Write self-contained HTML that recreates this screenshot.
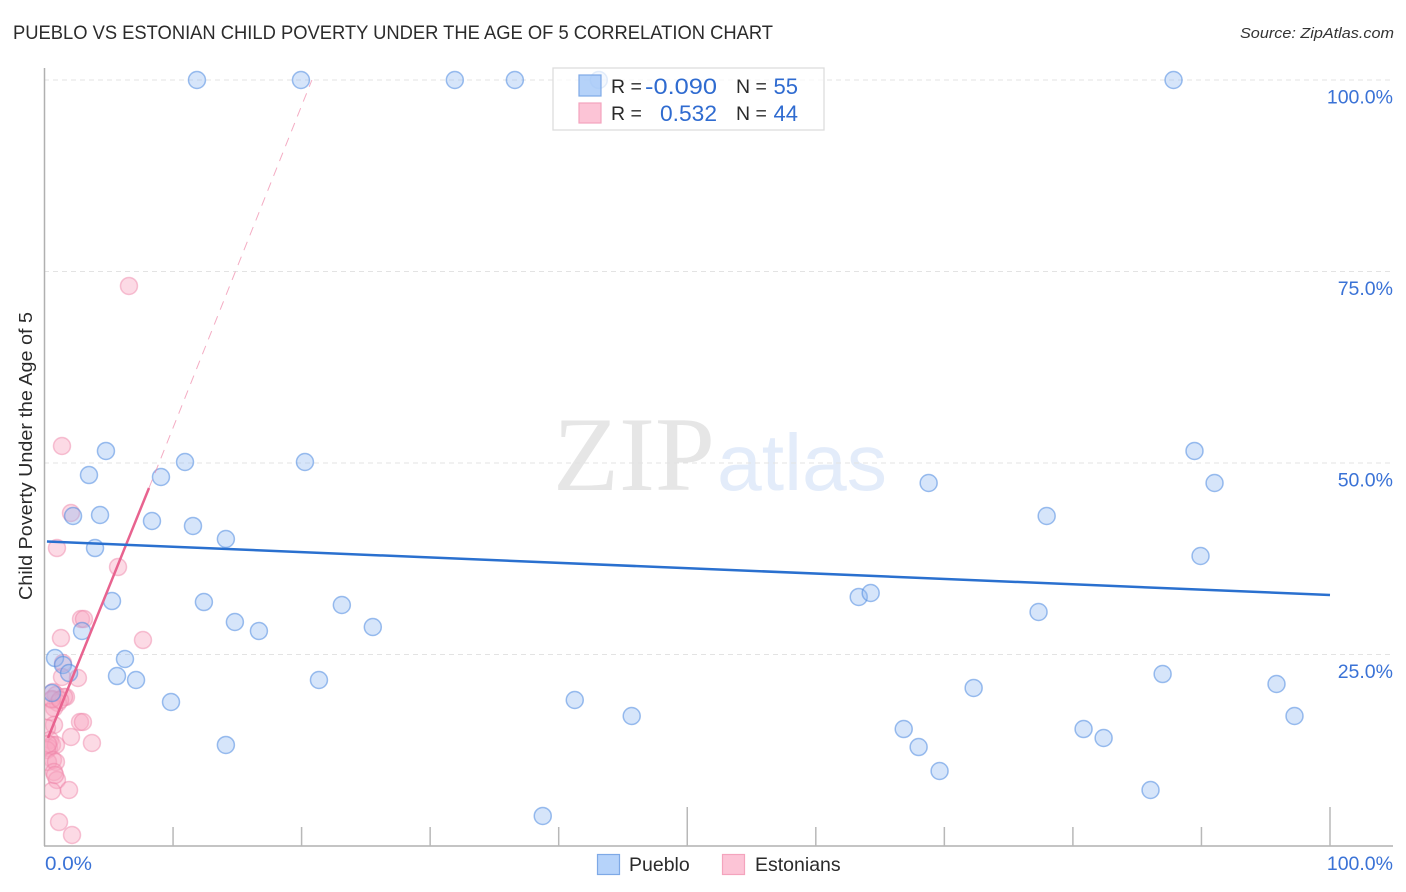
<!DOCTYPE html>
<html lang="en">
<head>
<meta charset="utf-8">
<title>Pueblo vs Estonian Child Poverty Under the Age of 5 Correlation Chart</title>
<style>
html,body{margin:0;padding:0;background:#fff;width:1406px;height:892px;overflow:hidden}
svg{display:block;font-family:"Liberation Sans",sans-serif}
</style>
</head>
<body>
<svg id="chart" width="1406" height="892" viewBox="0 0 1406 892">
  <defs>
    <clipPath id="plotClip"><rect x="45" y="60" width="1350" height="786"></rect></clipPath>
  </defs>
  <text x="13" y="39" font-size="19" fill="#2b2b2b" textLength="760" lengthAdjust="spacingAndGlyphs">PUEBLO VS ESTONIAN CHILD POVERTY UNDER THE AGE OF 5 CORRELATION CHART</text>
  <text x="1394" y="38" font-size="15" font-style="italic" fill="#333" text-anchor="end" textLength="154" lengthAdjust="spacingAndGlyphs">Source: ZipAtlas.com</text>

  <g>
    <text x="553" y="490" font-family="'Liberation Serif',serif" font-size="106" fill="#e6e6e6" textLength="162" lengthAdjust="spacingAndGlyphs">ZIP</text>
    <text x="717" y="490" font-family="'Liberation Sans',sans-serif" font-size="80" fill="#e3ecfa" textLength="170" lengthAdjust="spacingAndGlyphs">atlas</text>
  </g>

  <g id="grid"></g>
  <g id="axes">
    <line x1="44.5" y1="68" x2="44.5" y2="846" stroke="#b0b0b0" stroke-width="1.5"></line>
    <line x1="44" y1="846" x2="1393" y2="846" stroke="#b0b0b0" stroke-width="1.5"></line>
  </g>
  <g id="xticks"></g>
  <g id="ylabels"></g>
  <g id="xlabels"></g>
  <text transform="translate(32,456) rotate(-90)" font-size="18.5" fill="#2b2b2b" text-anchor="middle" textLength="288" lengthAdjust="spacingAndGlyphs">Child Poverty Under the Age of 5</text>

  <g id="pointsPink" clip-path="url(#plotClip)"></g>
  <g id="pointsBlue" clip-path="url(#plotClip)"></g>
  <g id="trends"></g>

  <g>
    <rect x="553" y="68" width="271" height="62" fill="#fff" fill-opacity="0.72" stroke="#ddd" stroke-width="1.3"></rect>
    <rect x="579" y="75" width="22" height="21" fill="#9cc3f7" fill-opacity="0.75" stroke="#7ea9e6" stroke-width="1.2"></rect>
    <rect x="579" y="103" width="22" height="20" fill="#fcc4d6" stroke="#f4a4bd" stroke-width="1.2"></rect>
    <g font-size="19.5" fill="#2b2b2b">
      <text x="611" y="93">R =</text>
      <text x="611" y="120">R =</text>
      <text x="736" y="93">N =</text>
      <text x="736" y="120">N =</text>
    </g>
    <g font-size="22" fill="#2f6bd0">
      <text x="645" y="94" textLength="72" lengthAdjust="spacingAndGlyphs">-0.090</text>
      <text x="660" y="121" textLength="57" lengthAdjust="spacingAndGlyphs">0.532</text>
      <text x="798" y="94" text-anchor="end">55</text>
      <text x="798" y="121" text-anchor="end">44</text>
    </g>
  </g>

  <g>
    <rect x="597.5" y="854.5" width="22" height="20" fill="#b6d3fa" stroke="#7ea9e6" stroke-width="1.2"></rect>
    <text x="629" y="871" font-size="19.5" fill="#2b2b2b">Pueblo</text>
    <rect x="722.5" y="854.5" width="22" height="20" fill="#fcc4d6" stroke="#f4a4bd" stroke-width="1.2"></rect>
    <text x="755" y="871" font-size="19.5" fill="#2b2b2b">Estonians</text>
  </g>
</svg>
<script>
const yTickValues = [25, 50, 75, 100];
const yTickLabels = ["25.0%", "50.0%", "75.0%", "100.0%"];
const xTickValues = [10, 20, 30, 40, 50, 60, 70, 80, 90, 100];
const xMajorTicks = [50, 100];
const xEndLabels = ["0.0%", "100.0%"];

const puebloX = [11.86,19.95,31.92,36.59,43.12,87.83,4.78,3.46,9.06,10.93,20.26,4.32,2.22,8.36,11.55,14.11,3.93,5.25,12.40,14.81,16.68,23.13,25.54,2.92,0.82,1.44,1.91,6.26,5.64,7.12,21.35,9.84,14.11,41.25,45.68,38.76,63.34,64.27,68.78,77.96,77.33,72.28,66.84,68.00,69.63,80.83,82.39,86.04,86.98,89.46,91.02,89.93,95.84,97.24,0.58];
const puebloY = [100,100,100,100,100,100,51.57,48.43,48.17,50.13,50.13,43.21,43.08,42.43,41.78,40.08,38.90,31.98,31.85,29.24,28.07,31.46,28.59,28.07,24.54,23.63,22.58,24.41,22.19,21.67,21.67,18.80,13.19,19.06,16.97,3.92,32.51,33.03,47.39,43.08,30.55,20.63,15.27,12.92,9.79,15.27,14.10,7.31,22.45,51.57,47.39,37.86,21.15,16.97,19.97];

const estoniansX = [6.57,1.36,2.06,0.97,5.72,2.84,3.07,7.66,1.28,1.44,2.60,1.36,0.66,0.89,0.58,1.67,1.52,1.05,0.74,0.43,0.74,0.19,2.76,2.99,2.06,3.69,0.43,0.58,0.35,0.89,0.19,0.66,0.27,0.89,0.74,0.97,0.58,1.91,1.13,2.14,0.58,1.21,0.27,0.82];
const estoniansY = [73.11,52.22,43.47,38.90,36.42,29.63,29.63,26.89,27.15,23.89,21.93,22.06,20.10,19.71,19.06,19.45,19.45,18.67,18.02,17.49,15.80,15.40,16.19,16.19,14.23,13.45,13.84,13.19,12.79,13.19,12.53,11.23,10.97,10.97,9.66,8.62,7.18,7.31,3.13,1.44,19.19,19.06,13.32,9.27];

const puebloTrendX = [0.19, 100];
const puebloTrendY = [39.75, 32.77];
const estoniansTrendX = [0.27, 8.13];
const estoniansTrendY = [14.10, 46.74];
const estoniansDashX = [8.13, 20.8];
const estoniansDashY = [46.74, 100];

const NS = "http://www.w3.org/2000/svg";
function sx(v){ return 44.5 + v * 12.855; }
function sy(v){ return 846 - v * 7.66; }
function make(tag, parentId, attrs){
  const el = document.createElementNS(NS, tag);
  for (const k in attrs) el.setAttribute(k, attrs[k]);
  document.getElementById(parentId).appendChild(el);
  return el;
}

yTickValues.forEach(function(v){
  const el = make("line", "grid", {x1:44, x2:1393, y1:sy(v), y2:sy(v), stroke:"#e3e3e3", "stroke-width":1, "stroke-dasharray":"5 4"});
  
  
});
yTickLabels.forEach(function(label, i){
  const el = make("text", "ylabels", {x:1393, y:sy(yTickValues[i]) + 23.5, "font-size":19.5, fill:"#3a72d6", "text-anchor":"end"});
  el.textContent = label;
  
  
});
xTickValues.forEach(function(v){
  const major = xMajorTicks.indexOf(v) >= 0;
  const el = make("line", "xticks", {x1:sx(v), x2:sx(v), y1:major ? 807 : 827, y2:846, stroke:"#b8b8b8", "stroke-width":1.5});
  
  
});
const xLabelLeft = make("text", "xlabels", {x:45, y:870, "font-size":19.5, fill:"#3a72d6", textLength:47, lengthAdjust:"spacingAndGlyphs"});
xLabelLeft.textContent = xEndLabels[0];


const xLabelRight = make("text", "xlabels", {x:1393, y:870, "font-size":19.5, fill:"#3a72d6", "text-anchor":"end"});
xLabelRight.textContent = xEndLabels[1];



estoniansX.forEach(function(x, i){
  const el = make("circle", "pointsPink", {cx:sx(x), cy:sy(estoniansY[i]), r:8.5, fill:"#f9a8c2", "fill-opacity":0.42, stroke:"#ee7fa3", "stroke-opacity":0.45, "stroke-width":1.5});
  
  
});
puebloX.forEach(function(x, i){
  const el = make("circle", "pointsBlue", {cx:sx(x), cy:sy(puebloY[i]), r:8.5, fill:"#8db8f0", "fill-opacity":0.36, stroke:"#4f8ae0", "stroke-opacity":0.55, "stroke-width":1.5});
  
  
});

const dashLine = make("line", "trends", {x1:sx(estoniansDashX[0]), y1:sy(estoniansDashY[0]), x2:sx(estoniansDashX[1]), y2:sy(estoniansDashY[1]), stroke:"#ee7fa3", "stroke-width":1, "stroke-dasharray":"9 7", "stroke-opacity":0.65});


const pinkLine = make("line", "trends", {x1:sx(estoniansTrendX[0]), y1:sy(estoniansTrendY[0]), x2:sx(estoniansTrendX[1]), y2:sy(estoniansTrendY[1]), stroke:"#e8638f", "stroke-width":2.5});


const blueLine = make("line", "trends", {x1:sx(puebloTrendX[0]), y1:sy(puebloTrendY[0]), x2:sx(puebloTrendX[1]), y2:sy(puebloTrendY[1]), stroke:"#2a70cf", "stroke-width":2.5});


</script>
</body>
</html>
